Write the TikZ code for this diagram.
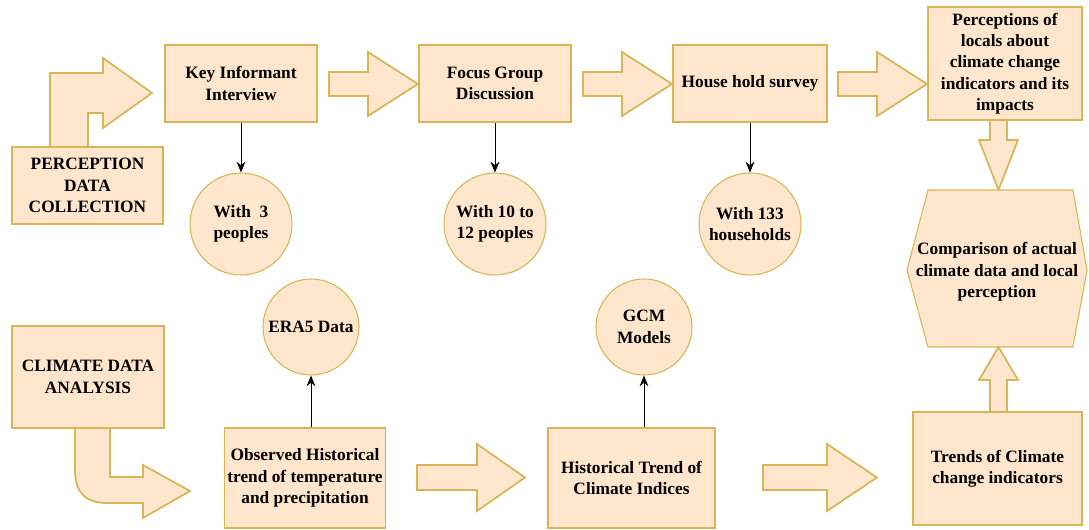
\documentclass[tikz,border=0pt]{standalone}
\usepackage{fontspec}
\setmainfont{Liberation Serif}
\usetikzlibrary{arrows.meta}

\definecolor{peach}{RGB}{255,230,204}
\definecolor{gold}{RGB}{214,182,86}

\tikzset{every picture/.style={line width=0.75pt}}
\tikzset{
  stepbox/.style={draw=gold, fill=peach, line width=0.8pt, align=center, inner sep=2pt,
    font=\bfseries\fontsize{13}{16}\selectfont},
  circbox/.style={circle, draw=gold, fill=peach, line width=0.8pt, align=center, inner sep=0pt,
    font=\bfseries\fontsize{13}{16}\selectfont},
  bigarrow/.style={draw=gold, fill=peach, line width=1.3pt, line join=miter},
  thinarrow/.style={-{Stealth[length=8pt,width=6.5pt]}, line width=0.6pt, black},
}

\begin{document}
\begin{tikzpicture}[x=0.75pt,y=0.75pt,yscale=-1,xscale=1]
        \useasboundingbox (0,0) rectangle (1089,530);

        %Bent Arrow (perception data collection)
        \draw [bigarrow] (50,147) -- (50,73) -- (103,73) -- (103,58) -- (152,93) -- (103,128) -- (103,113) -- (88,113) -- (88,147) -- cycle ;
        %Bent Arrow (climate data analysis)
        \draw [bigarrow] (75,428) -- (75,470) .. controls (75,492) and (85,503) .. (107,503) -- (143,503) -- (143,518) -- (190,491) -- (143,465) -- (143,477) -- (110,477) -- (110,428) -- cycle ;

        %Right Arrows top row
        \draw [bigarrow] (329,72) -- (368,72) -- (368,52) -- (418,84) -- (368,116) -- (368,96) -- (329,96) -- cycle ;
        \draw [bigarrow] (583,72) -- (622,72) -- (622,52) -- (672,84) -- (622,116) -- (622,96) -- (583,96) -- cycle ;
        \draw [bigarrow] (838,72) -- (877,72) -- (877,52) -- (927,84) -- (877,116) -- (877,96) -- (838,96) -- cycle ;
        %Right Arrows bottom row
        \draw [bigarrow] (417,465) -- (477,465) -- (477,444) -- (525,477.5) -- (477,511) -- (477,490) -- (417,490) -- cycle ;
        \draw [bigarrow] (763,465) -- (827,465) -- (827,444) -- (877,477.5) -- (827,511) -- (827,490) -- (763,490) -- cycle ;
        %Down Arrow
        \draw [bigarrow] (990,120) -- (1007,120) -- (1007,140) -- (1018,140) -- (998.5,190) -- (979,140) -- (990,140) -- cycle ;
        %Up Arrow
        \draw [bigarrow] (990,412) -- (1007,412) -- (1007,380) -- (1018,380) -- (998.5,347) -- (979,380) -- (990,380) -- cycle ;

        %Hexagon
        \draw [draw=gold, fill=peach, line width=0.8pt] (928,190) -- (1073,190) -- (1087,270) -- (1073,347) -- (928,347) -- (907,270) -- cycle ;

        % Boxes
        \node [stepbox, minimum width=113.25pt, minimum height=57.75pt] (pdc) at (87.5,185.5) {PERCEPTION\\DATA\\COLLECTION};
        \node [stepbox, minimum width=114pt, minimum height=57.75pt] (kii) at (241,83.5) {Key Informant\\Interview};
        \node [stepbox, minimum width=114pt, minimum height=57.75pt] (fgd) at (495,83.5) {Focus Group\\Discussion};
        \node [stepbox, minimum width=115.5pt, minimum height=57.75pt] (hhs) at (750,83.5) {House hold survey};
        \node [stepbox, minimum width=115.5pt, minimum height=84.75pt] (perc) at (1005,63.5) {Perceptions of\\locals about\\climate change\\indicators and its\\impacts};
        \node [stepbox, minimum width=114pt, minimum height=76.5pt] (cda) at (88,377) {CLIMATE DATA\\ANALYSIS};
        \node [stepbox, minimum width=117pt, minimum height=75pt] (obs) at (305,478) {Observed Historical\\trend of temperature\\and precipitation};
        \node [stepbox, minimum width=125.25pt, minimum height=75pt] (hti) at (631.5,478) {Historical Trend of\\Climate Indices};
        \node [stepbox, minimum width=126.75pt, minimum height=84.75pt] (tci) at (997.5,468.5) {Trends of Climate\\change indicators};
        % Text Node (hexagon)
        \node [align=center, inner sep=0pt, font=\bfseries\fontsize{13}{16}\selectfont] (cmp) at (997,272) {Comparison of actual\\climate data and local\\perception};

        % Circles
        \node [circbox, minimum size=76.5pt] (c3) at (241,224) {With\ \ 3\\peoples};
        \node [circbox, minimum size=76.5pt] (c10) at (495,224) {With 10 to\\12 peoples};
        \node [circbox, minimum size=76.5pt] (c133) at (750,224) {With 133\\households};
        \node [circbox, minimum size=72pt] (era) at (311,327) {ERA5 Data};
        \node [circbox, minimum size=72pt] (gcm) at (644,327) {GCM\\Models};

        % Thin arrows
        \draw [thinarrow] (kii) -- (c3);
        \draw [thinarrow] (fgd) -- (c10);
        \draw [thinarrow] (hhs) -- (c133);
        \draw [thinarrow] (obs.north -| era) -- (era.south);
        \draw [thinarrow] (hti.north -| gcm) -- (gcm.south);

    \end{tikzpicture}
\end{document}
